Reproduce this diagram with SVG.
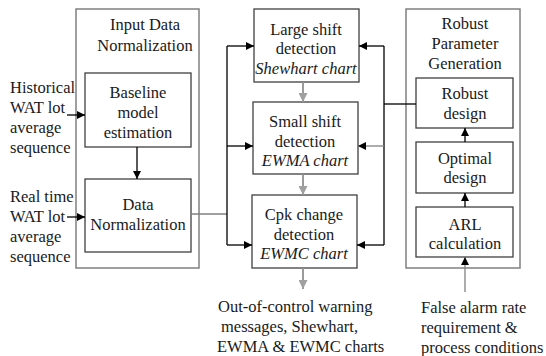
<svg xmlns="http://www.w3.org/2000/svg" width="546" height="356" viewBox="0 0 546 356" font-family="Liberation Serif, DejaVu Serif, serif">
<style>
text{font-size:16.5px;fill:#1a1a1a}
.c{text-anchor:middle}
.i{font-style:italic}
.outer{fill:none;stroke:#808080;stroke-width:1.5}
.box{fill:#fff;stroke:#404040;stroke-width:1.3}
.k{fill:none;stroke:#000;stroke-width:1.3}
.g{fill:none;stroke:#909090;stroke-width:1.8}
.gl{fill:none;stroke:#808080;stroke-width:1.3}
</style>
<defs>
<marker id="ak" viewBox="0 0 10 10" refX="10" refY="5" markerWidth="8" markerHeight="8" markerUnits="userSpaceOnUse" orient="auto"><path d="M0,0L10,5L0,10z" fill="#000"/></marker>
<marker id="ag" viewBox="0 0 10 10" refX="10" refY="5" markerWidth="9" markerHeight="9" markerUnits="userSpaceOnUse" orient="auto"><path d="M0,0L10,5L0,10z" fill="#a0a0a0"/></marker>
</defs>
<g id="input-group">
<rect class="outer" x="76" y="9" width="123" height="259"/>
<text class="c" x="145" y="30">Input Data</text>
<text class="c" x="145" y="51">Normalization</text>
</g>
<g id="baseline">
<rect class="box" x="85" y="73" width="106" height="74"/>
<text class="c" x="138" y="98">Baseline</text>
<text class="c" x="138" y="118">model</text>
<text class="c" x="138" y="138">estimation</text>
</g>
<g id="datanorm">
<rect class="box" x="85" y="179" width="106" height="73"/>
<text class="c" x="138" y="210">Data</text>
<text class="c" x="138" y="230">Normalization</text>
</g>
<g id="historical">
<text x="10" y="93">Historical</text>
<text x="10" y="113">WAT lot</text>
<text x="10" y="133">average</text>
<text x="10" y="153">sequence</text>
</g>
<g id="realtime">
<text x="10" y="202">Real time</text>
<text x="10" y="222">WAT lot</text>
<text x="10" y="242">average</text>
<text x="10" y="262">sequence</text>
</g>
<g id="large">
<rect class="box" x="254" y="9" width="105" height="73"/>
<text class="c" x="306" y="35">Large shift</text>
<text class="c" x="306" y="54">detection</text>
<text class="c i" x="306" y="74">Shewhart chart</text>
</g>
<g id="small">
<rect class="box" x="253" y="102" width="105" height="72"/>
<text class="c" x="305" y="127">Small shift</text>
<text class="c" x="305" y="147">detection</text>
<text class="c i" x="305" y="166">EWMA chart</text>
</g>
<g id="cpk">
<rect class="box" x="252" y="195" width="105" height="73"/>
<text class="c" x="304" y="220">Cpk change</text>
<text class="c" x="304" y="240">detection</text>
<text class="c i" x="304" y="259">EWMC chart</text>
</g>
<g id="output">
<text x="218" y="312">Out-of-control warning</text>
<text x="221" y="332">messages, Shewhart,</text>
<text x="217" y="352">EWMA &amp; EWMC charts</text>
</g>
<g id="robust-group">
<rect class="outer" x="406" y="9" width="114" height="259"/>
<text class="c" x="465" y="29">Robust</text>
<text class="c" x="465" y="49">Parameter</text>
<text class="c" x="465" y="69">Generation</text>
</g>
<g id="robust">
<rect class="box" x="416" y="78" width="97" height="50"/>
<text class="c" x="465" y="99">Robust</text>
<text class="c" x="465" y="119">design</text>
</g>
<g id="optimal">
<rect class="box" x="416" y="142" width="97" height="51"/>
<text class="c" x="465" y="164">Optimal</text>
<text class="c" x="465" y="183">design</text>
</g>
<g id="arl">
<rect class="box" x="416" y="207" width="97" height="50"/>
<text class="c" x="465" y="230">ARL</text>
<text class="c" x="465" y="249">calculation</text>
</g>
<g id="false">
<text x="421" y="313">False alarm rate</text>
<text x="421" y="333">requirement &amp;</text>
<text x="421" y="353">process conditions</text>
</g>
<g id="connectors">
<path class="k" d="M67,115H85" marker-end="url(#ak)"/>
<path class="k" d="M67,217H85" marker-end="url(#ak)"/>
<path class="k" d="M137,147V179" marker-end="url(#ak)"/>
<path class="gl" d="M191,214H227"/>
<path class="k" d="M227,46V245"/>
<path class="k" d="M227,46H254" marker-end="url(#ak)"/>
<path class="k" d="M227,146H253" marker-end="url(#ak)"/>
<path class="k" d="M227,245H252" marker-end="url(#ak)"/>
<path class="g" d="M303,82V102" marker-end="url(#ag)"/>
<path class="g" d="M303,174V195" marker-end="url(#ag)"/>
<path class="g" d="M303,268V289" marker-end="url(#ag)"/>
<path class="k" d="M384,46V245"/>
<path class="k" d="M384,46H359" marker-end="url(#ak)"/>
<path class="gl" d="M384,146H358" marker-end="url(#ak)"/>
<path class="k" d="M384,245H357" marker-end="url(#ak)"/>
<path class="k" d="M384,104H416"/>
<path class="k" d="M465,142V128" marker-end="url(#ak)"/>
<path class="k" d="M465,207V193" marker-end="url(#ak)"/>
<path class="gl" d="M465,292V257" marker-end="url(#ak)"/>
</g>
</svg>
